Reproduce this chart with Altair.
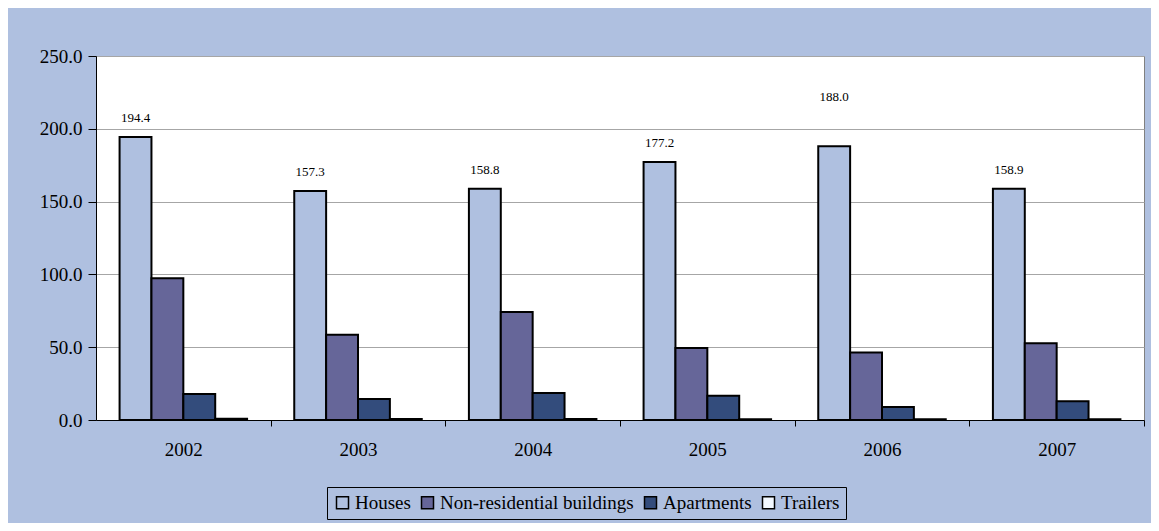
import altair as alt
import pandas as pd

years = ["2002", "2003", "2004", "2005", "2006", "2007"]
series = ["Houses", "Non-residential buildings", "Apartments", "Trailers"]
houses = [194.4, 157.3, 158.8, 177.2, 188.0, 158.9]
nonres = [97.3, 58.5, 74.2, 49.5, 46.4, 52.7]
apartments = [17.8, 14.5, 18.5, 16.6, 9.0, 12.8]
trailers = [0.9, 0.7, 0.7, 0.6, 0.5, 0.5]
colors = ["#AFC0E0", "#666699", "#334C7C", "#F2F8FF"]
y_ticks = [0, 50, 100, 150, 200, 250]

rows = []
for name, vals in zip(series, [houses, nonres, apartments, trailers]):
    for yr, v in zip(years, vals):
        rows.append({"year": yr, "series": name, "value": v})
df = pd.DataFrame(rows)

W, H = 1048, 364
step = W / len(years)
FONT = "Liberation Serif"

x_enc = alt.X("year:N", sort=years,
              scale=alt.Scale(paddingInner=0.27, paddingOuter=0.135),
              axis=alt.Axis(title=None, labelAngle=0, labelFontSize=19, labelFont=FONT,
                            labelColor="black", domainColor="black", tickColor="black",
                            tickSize=6, labelPadding=14, tickOffset=step / 2,
                            labelOffset=-step / 2, domainWidth=1))
y_enc = alt.Y("value:Q", scale=alt.Scale(domain=[0, 250], nice=False),
              axis=alt.Axis(title=None, values=y_ticks, format=".1f", labelFontSize=19,
                            labelFont=FONT, labelColor="black", domainColor="black",
                            tickColor="black", tickSize=8, labelPadding=6,
                            gridColor="#A6A6A6", gridWidth=1))

bars = alt.Chart(df).mark_bar(stroke="black", strokeWidth=2).encode(
    x=x_enc,
    xOffset=alt.XOffset("series:N", sort=series, scale=alt.Scale(paddingInner=0, paddingOuter=0)),
    y=y_enc,
    color=alt.Color("series:N", sort=series,
                    scale=alt.Scale(domain=series, range=colors),
                    legend=alt.Legend(title=None, orient="none", legendX=231, legendY=431,
                                      direction="horizontal", columns=4,
                                      symbolType="square", symbolSize=144,
                                      symbolStrokeColor="black", symbolStrokeWidth=1.5,
                                      labelFont=FONT, labelFontSize=19, labelColor="black",
                                      labelLimit=0, labelOffset=3, columnPadding=7,
                                      padding=6, strokeColor="black")),
)

houses_df = df[df["series"] == "Houses"]
label_enc = dict(
    x=alt.X("year:N", sort=years),
    xOffset=alt.XOffset("series:N", sort=series),
    y="value:Q",
    text=alt.Text("value:Q", format=".1f"),
)
labels = alt.Chart(houses_df[houses_df["year"] != "2006"]).mark_text(
    baseline="bottom", dy=-12, font=FONT, fontSize=13, color="black"
).encode(**label_enc)
labels_moved = alt.Chart(houses_df[houses_df["year"] == "2006"]).mark_text(
    baseline="bottom", dy=-42, font=FONT, fontSize=13, color="black"
).encode(**label_enc)

chart = alt.layer(bars, labels, labels_moved).properties(
    width=W, height=H,
    background="#AFC0E0",
    padding={"left": 88, "top": 48, "right": 7, "bottom": 103},
    autosize=alt.AutoSizeParams(type="none"),
).configure_view(fill="white", stroke="#808080", strokeWidth=1)

chart.save("out.html", embed_options={"renderer": "svg", "actions": False})
